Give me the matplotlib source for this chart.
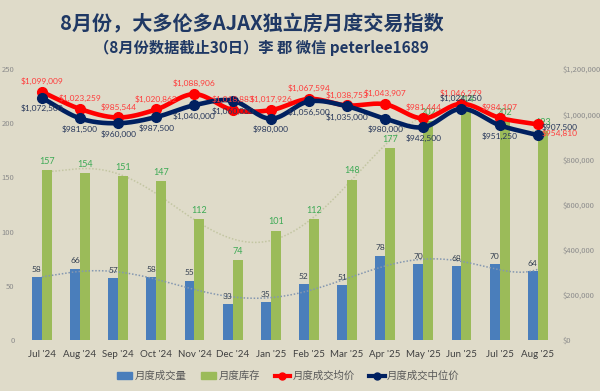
import numpy as np
import matplotlib
matplotlib.use("Agg")
import matplotlib.pyplot as plt
from matplotlib.lines import Line2D
from matplotlib.patches import Patch

plt.rcParams['font.family'] = ['Noto Sans CJK SC', 'DejaVu Sans']

months = ["Jul '24", "Aug '24", "Sep '24", "Oct '24", "Nov '24", "Dec '24", "Jan '25",
          "Feb '25", "Mar '25", "Apr '25", "May '25", "Jun '25", "Jul '25", "Aug '25"]
volume = [58, 66, 57, 58, 55, 33, 35, 52, 51, 78, 70, 68, 70, 64]
inventory = [157, 154, 151, 147, 112, 74, 101, 112, 148, 177, 202, 214, 202, 193]
avg_price = [1099009, 1023259, 985544, 1020862, 1088906, 1018883, 1017926,
             1067594, 1038753, 1043907, 981444, 1046279, 984107, 954810]
median_price = [1072500, 981500, 960000, 987500, 1040000, 1060000, 980000,
                1056500, 1035000, 980000, 942500, 1024250, 951250, 907500]

BG = '#DFDBC9'
BLUE = '#4A7EBB'
GREEN = '#9BBB59'
RED = '#FF0000'
NAVY = '#002060'


def smooth(y, n=30):
    y = np.asarray(y, float)
    k = len(y)
    xs, ys = [], []
    for i in range(k - 1):
        p0 = y[i - 1] if i > 0 else y[i]
        p1, p2 = y[i], y[i + 1]
        p3 = y[i + 2] if i + 2 < k else y[i + 1]
        m1 = (p2 - p0) / (2 if i > 0 else 1)
        m2 = (p3 - p1) / (2 if i + 2 < k else 1)
        t = np.linspace(0, 1, n, endpoint=False)
        h00 = 2 * t**3 - 3 * t**2 + 1
        h10 = t**3 - 2 * t**2 + t
        h01 = -2 * t**3 + 3 * t**2
        h11 = t**3 - t**2
        xs.append(i + t)
        ys.append(h00 * p1 + h10 * m1 + h01 * p2 + h11 * m2)
    xs.append(np.array([k - 1.0]))
    ys.append(np.array([y[-1]]))
    return np.concatenate(xs), np.concatenate(ys)


fig = plt.figure(figsize=(6, 3.91), dpi=100)
fig.patch.set_facecolor(BG)
ax = fig.add_axes([0.038, 0.130, 0.890, 0.6935])
ax.set_facecolor(BG)
x = np.arange(len(months))
w = 0.26

ax.bar(x - w / 2, volume, w, color=BLUE, zorder=2)
ax.bar(x + w / 2, inventory, w, color=GREEN, zorder=2)

# polynomial trendlines
xx = np.linspace(0, len(months) - 1, 300)
pv = np.polyfit(x, volume, 6)
pi = np.polyfit(x, inventory, 6)
ax.plot(xx, np.polyval(pv, xx), ls=(0, (1, 1.2)), color='#8497B0', lw=1.1, zorder=3)
ax.plot(xx, np.polyval(pi, xx), ls=(0, (1, 1.2)), color='#C3C6A2', lw=1.1, zorder=1.5)

for i in range(len(months)):
    ax.annotate(str(volume[i]), (x[i] - w / 2, volume[i]), xytext=(0, 3),
                textcoords='offset points', ha='center', va='bottom',
                fontsize=6, color='#333F50', family='Lato', zorder=4)
    ax.annotate(str(inventory[i]), (x[i] + w / 2, inventory[i]), xytext=(0, 3),
                textcoords='offset points', ha='center', va='bottom',
                fontsize=6.5, color='#3DAA55', family='Lato', zorder=4)

ax.set_xlim(-0.5, len(months) - 0.5)
ax.set_ylim(0, 250)
ax.set_yticks([0, 50, 100, 150, 200, 250])
ax.set_xticks(x)
ax.set_xticklabels(months, fontsize=7, color='#404040', family='Lato')
ax.tick_params(axis='y', labelsize=5.5, colors='#8C8C8C', length=0, pad=6)
ax.tick_params(axis='x', length=0, pad=7)
for s in ax.spines.values():
    s.set_visible(False)

ax2 = ax.twinx()
ax2.set_ylim(0, 1.2e6)
ax2.set_yticks([0, 2e5, 4e5, 6e5, 8e5, 1e6, 1.2e6])
ax2.set_yticklabels(['$0', '$200,000', '$400,000', '$600,000', '$800,000',
                     '$1,000,000', '$1,200,000'])
ax2.tick_params(axis='y', labelsize=5.5, colors='#8C8C8C', length=0, pad=4)
for s in ax2.spines.values():
    s.set_visible(False)

sx, sy = smooth(avg_price)
ax2.plot(sx, sy, color=RED, lw=3.3, solid_capstyle='round', zorder=3)
ax2.plot(x, avg_price, 'o', color=RED, ms=7, zorder=3)
sx, sy = smooth(median_price)
ax2.plot(sx, sy, color=NAVY, lw=3.3, solid_capstyle='round', zorder=4)
ax2.plot(x, median_price, 'o', color=NAVY, ms=7, zorder=4)

last = len(months) - 1
for i in range(len(months)):
    if i == last:
        ax2.annotate(f"${avg_price[i]:,}", (x[i], avg_price[i]), xytext=(3, -6),
                     textcoords='offset points', ha='left', va='center',
                     fontsize=6, color='#FF3B3B', family='Lato', zorder=6)
        ax2.annotate(f"${median_price[i]:,}", (x[i], median_price[i]), xytext=(3, 6),
                     textcoords='offset points', ha='left', va='center',
                     fontsize=6, color='#26365A', family='Lato', zorder=6)
        continue
    ax2.annotate(f"${avg_price[i]:,}", (x[i], avg_price[i]), xytext=(0, 5),
                 textcoords='offset points', ha='center', va='bottom',
                 fontsize=6, color='#FF3B3B', family='Lato', zorder=6)
    if i == 11:
        ax2.annotate(f"${median_price[i]:,}", (x[i], median_price[i]), xytext=(0, 5),
                     textcoords='offset points', ha='center', va='bottom',
                     fontsize=6, color='#26365A', family='Lato', zorder=6)
    else:
        ax2.annotate(f"${median_price[i]:,}", (x[i], median_price[i]), xytext=(0, -5),
                     textcoords='offset points', ha='center', va='top',
                     fontsize=6, color='#26365A', family='Lato', zorder=6)

fig.text(0.419, 0.942, '8月份，大多伦多AJAX独立房月度交易指数', ha='center', va='center',
         fontsize=14.5, fontweight='bold', color='#1F3864')
fig.text(0.435, 0.877, '（8月份数据截止30日）李 郡 微信 peterlee1689', ha='center', va='center',
         fontsize=11, fontweight='bold', color='#1F3864')

handles = [Patch(color=BLUE), Patch(color=GREEN),
           Line2D([], [], color=RED, lw=3, marker='o', ms=5),
           Line2D([], [], color=NAVY, lw=3, marker='o', ms=5)]
labels = ['月度成交量', '月度库存', '月度成交均价', '月度成交中位价']
leg = fig.legend(handles, labels, loc='center', bbox_to_anchor=(0.48, 0.038), ncol=4,
                 frameon=False, fontsize=7.5, handlelength=1.5, handletextpad=0.2,
                 columnspacing=1.4)
for t in leg.get_texts():
    t.set_color('#595959')

fig.savefig('out.png', dpi=100, facecolor=BG)
